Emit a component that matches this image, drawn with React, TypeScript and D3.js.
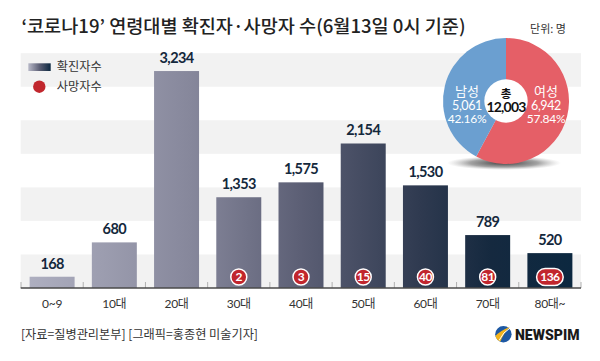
import React from 'react';
import * as d3 from 'd3';

const categories = ['0~9', '10대', '20대', '30대', '40대', '50대', '60대', '70대', '80대~'];
const confirmed = [168, 680, 3234, 1353, 1575, 2154, 1530, 789, 520];
const deaths: (number | null)[] = [null, null, null, 2, 3, 15, 40, 81, 136];
const bandTicks = [0, 500, 1000, 1500, 2000, 2500, 3000];
const genderLabels = ['여성', '남성'];
const genderValues = [6942, 5061];
const genderShares = ['57.84%', '42.16%'];
const genderColors = ['#e55f67', '#6b9fd0'];
const totalLabel = '12,003';

const W = 600;
const H = 361;
const KR = "'Noto Sans CJK KR', sans-serif";
const NUM = "Lato, 'Noto Sans CJK KR', sans-serif";

export default function App() {
  const x = d3.scaleBand<string>().domain(categories).range([21, 581]).paddingInner(0.277).paddingOuter(0.1385);
  const y = d3.scaleLinear().domain([0, 3500]).range([288, 53.2]);
  const fmt = d3.format(',');

  const pieCx = 506;
  const pieCy = 101;
  const pieR = 63;
  const pie = d3.pie<number>().sort(null)(genderValues);
  const arc = d3.arc<d3.PieArcDatum<number>>().innerRadius(0).outerRadius(pieR);
  const labelX = [546, 467];

  return (
    <svg width={W} height={H} style={{ position: 'absolute', left: 0, top: 0, background: '#fff' }}>
      <defs>
        <linearGradient id="barGrad" gradientUnits="userSpaceOnUse" x1={29} x2={572} y1={0} y2={0}>
          <stop offset="0" stopColor="#aeafc0" />
          <stop offset="0.3" stopColor="#86879b" />
          <stop offset="0.5" stopColor="#5c5f75" />
          <stop offset="0.72" stopColor="#2f3a50" />
          <stop offset="0.85" stopColor="#15293f" />
          <stop offset="1" stopColor="#0c2840" />
        </linearGradient>
        <linearGradient id="legGrad" x1="0" x2="1" y1="0" y2="0">
          <stop offset="0" stopColor="#b8b9c8" />
          <stop offset="0.5" stopColor="#5c5f75" />
          <stop offset="1" stopColor="#0c2840" />
        </linearGradient>
        <radialGradient id="shadow" cx="0.5" cy="0.5" r="0.5">
          <stop offset="0" stopColor="#000" stopOpacity="0.75" />
          <stop offset="0.6" stopColor="#333" stopOpacity="0.45" />
          <stop offset="1" stopColor="#888" stopOpacity="0" />
        </radialGradient>
      </defs>

      {/* background bands */}
      {bandTicks.map((t, i) =>
        i % 2 === 0 ? (
          <rect key={t} x={20.7} width={560.3} y={y(t + 500)} height={y(t) - y(t + 500)} fill="#f2f2f2" />
        ) : null
      )}

      {/* title */}
      <text x={21.5} y={33} fontFamily={KR} fontSize={18} fontWeight={500} fill="#222" textLength={444} lengthAdjust="spacingAndGlyphs">
        ‘코로나19’ 연령대별 확진자·사망자 수(6월13일 0시 기준)
      </text>
      <text x={566} y={33} textAnchor="end" fontFamily={KR} fontSize={11} fill="#333">단위: 명</text>

      {/* legend */}
      <rect x={28.3} y={63.3} width={22.4} height={7.7} fill="url(#legGrad)" />
      <text x={56.7} y={70.8} fontFamily={KR} fontSize={12} fill="#333" textLength={45} lengthAdjust="spacingAndGlyphs">확진자수</text>
      <circle cx={39.3} cy={86.7} r={6.2} fill="#c1272d" />
      <text x={56.7} y={90.8} fontFamily={KR} fontSize={12} fill="#333" textLength={45} lengthAdjust="spacingAndGlyphs">사망자수</text>

      {/* bars */}
      {categories.map((c, i) => (
        <rect key={c} x={x(c)} y={y(confirmed[i])} width={x.bandwidth()} height={y(0) - y(confirmed[i])} fill="url(#barGrad)" />
      ))}
      {categories.map((c, i) => (
        <text key={'v' + c} x={(x(c) as number) + x.bandwidth() / 2} y={y(confirmed[i]) - 8} textAnchor="middle" fontFamily={NUM} fontWeight={700} fontSize={14.5} letterSpacing={-0.6} fill="#14283c">
          {fmt(confirmed[i])}
        </text>
      ))}

      {/* axis */}
      {d3.range(categories.length + 1).map((i) => {
        const xx = 21 + i * x.step();
        return <line key={'t' + i} x1={xx} x2={xx} y1={282} y2={288} stroke="#b0b0b0" strokeWidth={1} />;
      })}
      <line x1={20.7} x2={581} y1={288} y2={288} stroke="#4a4a4a" strokeWidth={1.5} />
      {categories.map((c) => (
        <text key={'l' + c} x={(x(c) as number) + x.bandwidth() / 2} y={307.5} textAnchor="middle" fontFamily={NUM} fontSize={12} fill="#333" letterSpacing={-0.3}>
          {c}
        </text>
      ))}

      {/* deaths */}
      {categories.map((c, i) => {
        const d = deaths[i];
        if (d == null) return null;
        const cx = (x(c) as number) + x.bandwidth() / 2;
        const cy = 277;
        const wide = String(d).length >= 3;
        return (
          <g key={'d' + c}>
            {wide ? (
              <rect x={cx - 13.3} y={cy - 8.5} width={26.6} height={17} rx={8.5} fill="#c1262d" stroke="#fff" strokeWidth={1.5} />
            ) : (
              <circle cx={cx} cy={cy} r={8} fill="#c1262d" stroke="#fff" strokeWidth={1.5} />
            )}
            <text x={cx} y={cy + 4.3} textAnchor="middle" fontFamily={NUM} fontWeight={700} fontSize={12} letterSpacing={-0.6} fill="#fff">
              {d}
            </text>
          </g>
        );
      })}

      {/* pie */}
      <ellipse cx={pieCx - 2} cy={pieCy + pieR - 1} rx={57} ry={7} fill="url(#shadow)" />
      <g transform={`translate(${pieCx},${pieCy})`}>
        {pie.map((p, i) => (
          <path key={'p' + i} d={arc(p) as string} fill={genderColors[i]} />
        ))}
        <circle r={21.7} fill="#fff" />
      </g>
      {genderLabels.map((g, i) => (
        <g key={'g' + g} fill="#fff" textAnchor="middle">
          <text x={labelX[i]} y={96.2} fontFamily={KR} fontSize={13}>{g}</text>
          <text x={labelX[i]} y={110.3} fontFamily={NUM} fontSize={12.5} letterSpacing={-0.4}>{fmt(genderValues[i])}</text>
          <text x={labelX[i]} y={123.3} fontFamily={NUM} fontSize={12} letterSpacing={-0.3}>{genderShares[i]}</text>
        </g>
      ))}
      <text x={pieCx} y={97.5} textAnchor="middle" fontFamily={KR} fontSize={11.5} fontWeight={700} fill="#111">총</text>
      <text x={pieCx} y={111.5} textAnchor="middle" fontFamily={NUM} fontSize={14} fontWeight={700} letterSpacing={-0.8} fill="#111">{totalLabel}</text>

      {/* footer */}
      <text x={21} y={338.5} fontFamily={KR} fontSize={12.5} fill="#333" textLength={237} lengthAdjust="spacingAndGlyphs">
        [자료=질병관리본부] [그래픽=홍종현 미술기자]
      </text>
      <g>
        <circle cx={503.4} cy={334.2} r={8.2} fill="#1d58a3" />
        <path d="M495.4,336 Q500,331 510,326.8 Q503,334 500.5,341.6 Q496.5,340 495.4,336 Z" fill="#f3b41c" />
        <path d="M499,340.5 Q503,332 510.8,327.5" stroke="#fff" strokeWidth={1} fill="none" />
        <text x={515} y={340.3} fontFamily="Roboto, 'Liberation Sans', sans-serif" fontWeight={900} fontSize={15.5} fill="#1a1a1a" textLength={64.5} lengthAdjust="spacingAndGlyphs">NEWSPIM</text>
      </g>
    </svg>
  );
}
